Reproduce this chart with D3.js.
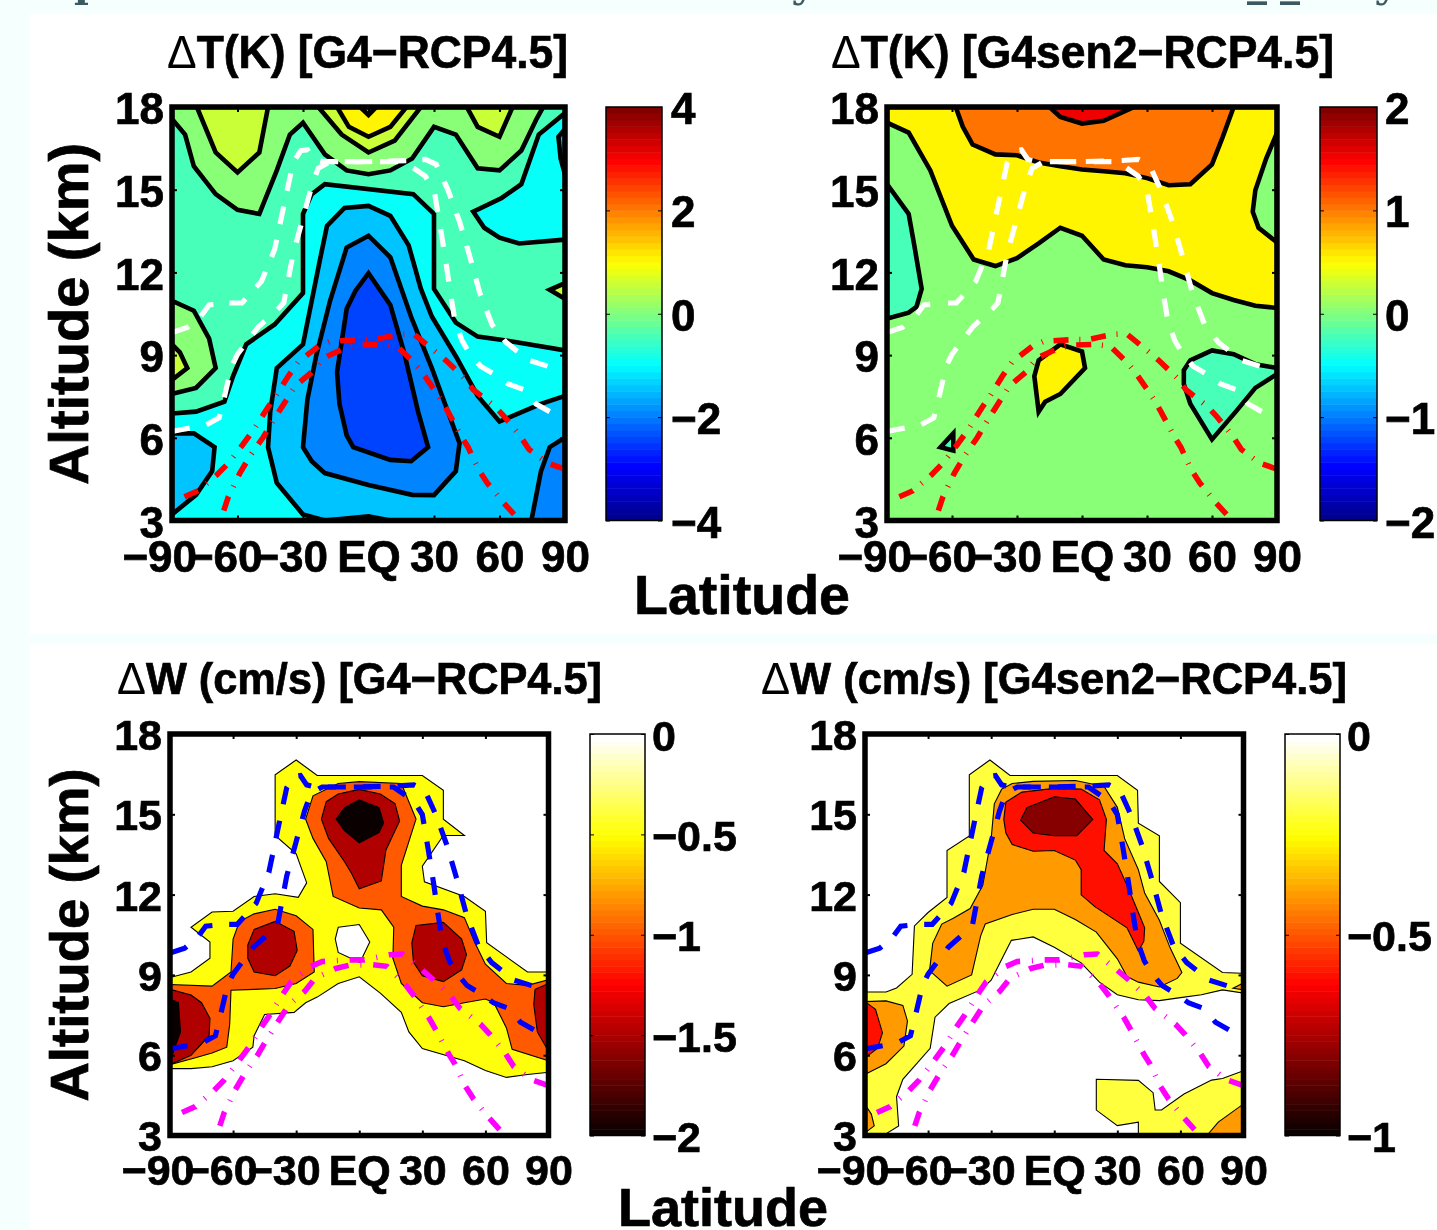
<!DOCTYPE html>
<html><head><meta charset="utf-8">
<style>html,body{margin:0;padding:0;background:#f5fffe;overflow:hidden}svg{display:block;filter:blur(0.45px)}text{font-family:"Liberation Sans",Arial,sans-serif;font-weight:700;fill:#000;stroke:#000;stroke-width:0.7px}</style>
<script src="https://cdn.jsdelivr.net/npm/d3@7"></script></head><body><svg id="c" width="1437" height="1230"></svg>
<script>
// ---------- Data: contour outlines, [latitude, altitude km] ----------
const latTicks=[-90,-60,-30,0,30,60,90];
const altTicks=[3,6,9,12,15,18];
const wholeDomain=[[-90,3],[-90,18],[90,18],[90,3]];

// Tropopause-like curves (same in every panel)
const tropoA=[[-90,9.82],[-83,10],[-77,10.39],[-73,10.82],[-64,10.89],[-58,10.89],[-49,11.68],[-43,12.83],[-38,14.7],[-34.5,15.99],[-31,16.42],[-28,16.45],[-25,16.1],[-21,16.02],[0,16.02],[18.4,16.06],[26,16.1],[31,15.92],[36.4,14.99],[41.7,13.84],[46,12.69],[51,11.25],[56.6,10.1],[63,9.46],[73.5,8.81],[82,8.6]];
const tropoB=[[-90,6.23],[-85.4,6.3],[-74.8,6.45],[-68.4,6.73],[-66.3,7.38],[-62.7,8.6],[-60,9.03],[-50.4,10.03],[-43,10.54],[-38.8,10.9],[-34.5,12.69],[-30,13.98],[-26,15.13],[-23,15.78],[-17.6,16.02],[0,16.02],[16.3,16.02],[26,15.49],[30,14.99],[32.8,13.69],[35.4,12.4],[37.5,11.25],[39.6,10.25],[42.8,9.53],[46,9.1],[51.3,8.6],[57.6,8.31],[64,7.95],[71.4,7.74],[76.7,7.23],[83,6.95]];
const tropoC=[[-84.3,3.86],[-78,4.08],[-69.5,4.65],[-64.2,5.08],[-57.8,5.73],[-52.5,6.3],[-46.2,7.09],[-43,7.45],[-36.7,8.24],[-32.4,8.74],[-22.9,9.32],[-17.6,9.5],[-4.9,9.56],[2.5,9.56],[14.2,9.75],[20.5,9.78],[30,9.17],[35.4,8.81],[43.9,8.17],[48,7.74],[57.6,7.16],[61.9,6.8],[69.3,6.09],[73.5,5.58],[82,5.08],[88.3,4.91],[90,4.87]];
const tropoD=[[-66.3,3.36],[-64.2,3.86],[-58.9,4.72],[-54,5.37],[-48.3,6.01],[-45.1,6.44],[-38.8,7.23],[-33.5,7.88],[-26,8.38],[-20.8,8.89],[-11.2,9.24],[-4.9,9.36],[5.7,9.39],[13.1,9.32],[21.6,8.67],[25.8,8.24],[33.3,7.38],[36.4,6.95],[42.8,6.01],[45.6,5.66],[50.2,4.87],[54.4,4.36],[61.9,3.64],[66.7,3.22]];

// Panel 1: dT G4-RCP4.5
const t1GreenTop=[[-90,17.57],[-84,17],[-80,15.85],[-70,14.84],[-60,14.27],[-50,14.12],[-42,15.7],[-36,17],[-30,17.43],[-20,16.28],[-10,15.7],[0,15.56],[10,15.7],[20,16.13],[30,17.28],[40,17],[50,15.78],[60,15.7],[70,16.42],[77,17.57],[80,18],[-90,18]];
const t1GreenLeft=[[-90,10.97],[-80,10.61],[-73,9.6],[-70,8.53],[-79,7.81],[-90,7.59]];
const t1LimeLeft=[[-90,9.39],[-86.4,9.1],[-83,8.53],[-90,8.1]];
const t1LimeA=[[-78.6,18],[-70,16.35],[-60,15.63],[-50,16.35],[-46,18]];
const t1LimeB=[[-23,18],[-12.3,17],[0,16.35],[12,16.78],[24,18]];
const t1Yellow=[[-14.4,18],[-9,17.28],[0,16.92],[10,17.28],[17.4,18]];
const t1Orange=[[-3.8,18],[0,17.71],[3.6,18]];
const t1LimeC=[[45,18],[50,17.28],[60,16.92],[66,18]];
const t1LimeRight=[[90,11.61],[83,11.37],[90,11.04]];
const t1CyanMain=[[-90,6.88],[-79,6.95],[-66,7.31],[-62,8.24],[-56,9.39],[-43,10.11],[-30,11.25],[-30,14.12],[-26,14.84],[-20,15.2],[20.5,14.84],[30,14.12],[30,11.4],[40,10.18],[50,9.67],[63,9.53],[90,9.17],[90,3],[-90,3]];
const t1CyanTongue=[[90,13.19],[69,13.05],[60,13.26],[53,13.62],[48,14.2],[61,14.7],[70,15.2],[78,17],[90,17.78]];
const t1SkyLeft=[[-90,6.16],[-80,6.16],[-70.5,5.66],[-71.6,4.79],[-79,3.93],[-90,3.22]];
const t1SkyCentre=[[-30,3.22],[-42,4.36],[-46,5.66],[-45,6.95],[-42,8.53],[-30,9.39],[-22,12.55],[-19,13.69],[-11,14.34],[0,14.41],[10,14.05],[18.4,12.98],[24,11.4],[29,10.4],[40,8.96],[50,7.52],[60,6.59],[79,7.23],[90,7.52],[90,3],[10,3],[0,3.15],[-7,3.1],[-20,3]];
const t1SkyRight=[[90,17.2],[87,16.92],[88,16.13],[90,15.56]];
const t1MidCentre=[[-30,5.66],[-28,7.38],[-24,8.96],[-17.6,10.97],[-10,12.9],[0,13.33],[10,12.55],[19.5,10.39],[29,8.53],[41.7,5.8],[40,4.79],[30,3.92],[20,3.93],[0,4.29],[-20,4.72],[-26,5.15]];
const t1MidRight=[[74.6,3],[79,4.79],[83,5.66],[90,6.01],[90,3]];
const t1Deep=[[0,11.97],[10,10.82],[16.3,9.1],[22.7,6.95],[27.3,5.66],[19.5,5.15],[10,5.2],[-7,5.66],[-10,6.09],[-13.3,7.23],[-14.4,8.38],[-10,10.68],[-6,11.33]];

// Panel 2: dT G4sen2-RCP4.5
const t2Yellow=[[-90,17.43],[-80,17.07],[-70,15.7],[-60,13.69],[-50,12.47],[-40,12.23],[-30,12.52],[-20,13.05],[-10,13.62],[0,13.33],[10,12.47],[20,12.26],[30,12.19],[40,12.04],[50,11.71],[60,11.25],[70,11],[80,10.79],[90,10.71],[90,18],[-90,18]];
const t2Orange=[[-58.3,18],[-55,17.28],[-50.5,16.64],[-40,16.28],[-30,16.25],[-20,15.99],[-10,15.85],[0,15.73],[10,15.67],[20,15.6],[30,15.42],[40,15.16],[50,15.2],[60,15.92],[65,16.92],[70,18]];
const t2Red=[[-15,18],[-10,17.64],[0,17.4],[10,17.5],[24,18]];
const t2GreenRight=[[90,17.06],[85,16.13],[80,14.98],[78.8,14.2],[81.5,13.62],[90,13.09]];
const t2AquaLeft=[[-90,15.2],[-80,14.12],[-77.4,12.98],[-74,11.4],[-76.4,10.75],[-80,10.54],[-90,10.32]];
const t2AquaRight=[[47,8.45],[50,8.81],[60,9.17],[70,9.03],[80,8.67],[90,8.53],[90,8.31],[80,7.81],[71,6.95],[60,5.94],[50,7.23],[47,7.95]];
const t2YellowIsle=[[-20,8.81],[-10,9.39],[0,9.13],[1.4,8.53],[-10,7.59],[-17,7.31],[-20,6.95],[-22,8.24]];
const t2Speck=[[-59.4,6.16],[-65.3,5.66],[-59.4,5.54]];

// Panel 3: dW G4-RCP4.5
const w1Yellow=[[-90,8.9],[-80,9.11],[-71,9.62],[-71,10.23],[-80,10.78],[-70,11.35],[-60,11.38],[-50,11.93],[-40,12.03],[-29,11.9],[-25,12.44],[-30,13.52],[-40,14.21],[-40,16.48],[-30,17.03],[-20,16.45],[30,16.45],[40,15.9],[40,14.82],[50,14.21],[40,14.21],[30,13.06],[31,12.48],[50,11.93],[60,11.38],[60.6,10.2],[80,9.11],[90,9.11],[90,5.36],[80,5.28],[70,5.17],[60,5.43],[50,5.79],[30,6.25],[23.6,6.87],[20,7.6],[10,8.32],[0,8.93],[-10,8.68],[-20,8.17],[-25.5,7.96],[-31,7.6],[-45,7.52],[-50,6.73],[-50.6,6.3],[-60,5.79],[-70,5.57],[-80,5.5],[-90,5.5]];
const w1Hole=[[-10,10.78],[0,10.88],[5,10.23],[1.7,9.69],[0,9.47],[-10,9.84],[-11.4,10.34]];
const w1OrangeCentre=[[-25.5,14.82],[-22,15.69],[-10,16.15],[0,16.22],[20,16.15],[27,14.82],[20,13.09],[20,11.93],[30,11.57],[40,11.43],[50,11.14],[55,10.2],[60,9.4],[70,8.68],[80,8.61],[90,8.82],[90,5.79],[72.7,6.22],[70,7.02],[64,7.96],[60,8.1],[50,7.96],[40,7.81],[30,7.96],[20,8.68],[16,9.62],[16.4,10.78],[10.5,11.43],[0,11.5],[-12.4,11.93],[-15.7,13.23],[-22,14.1]];
const w1OrangeLeft=[[-90,8.64],[-70,8.58],[-61,9.11],[-60,10.34],[-57,10.99],[-50,11.28],[-40,11.45],[-30,11.21],[-22,10.7],[-21.4,9.11],[-30,8.68],[-40,8.49],[-50,8.46],[-61,8.43],[-61.6,7.16],[-63,6.3],[-70,6.08],[-80,5.86],[-90,5.65]];
const w1DarkTop=[[-18,14.82],[-15.7,15.47],[-10,15.76],[0,15.93],[10,15.76],[17,15.4],[19.2,14.75],[12.7,13.67],[10.5,12.51],[0,12.22],[-3.7,12.8],[-7,13.23],[-14.6,14.1]];
const w1DarkLeftBlob=[[-53,10.12],[-50,10.7],[-40,11],[-31,10.63],[-29.5,9.91],[-33,9.33],[-40,8.97],[-50,9.11],[-53,9.62]];
const w1DarkRightBlob=[[25,10.2],[27,10.85],[40,10.96],[48.7,10.34],[51,9.76],[48.7,9.19],[40,8.75],[30,8.97],[25.8,9.47]];
const w1DarkEdgeL=[[-90,8.46],[-80,8.25],[-75,7.96],[-71,7.38],[-71.4,6.73],[-80,6],[-90,5.65]];
const w1DarkEdgeR=[[90,8.68],[83.6,8.46],[83,7.89],[84.7,6.87],[90,6.15]];
const w1BlackTop=[[-11,14.82],[-7,15.25],[0,15.54],[9.4,15.25],[11.6,14.68],[9.4,14.32],[0,13.93],[-7,14.39]];
const w1BlackEdge=[[-90,8.1],[-86,7.96],[-85,6.87],[-90,5.79]];

// Panel 4: dW G4sen2-RCP4.5
const w2YellowMain=[[-90,8.36],[-80,8.36],[-75,8.51],[-67.6,9.02],[-66.5,10.83],[-60,11.33],[-51,11.89],[-51,13.65],[-40.4,14.19],[-40.4,16.48],[-30.6,17.03],[-21,16.45],[30,16.45],[39.6,15.9],[40,14.67],[50,14.2],[50,12.49],[60,11.7],[60,10.18],[80,9.09],[89,9.06],[90,9.06],[90,8.32],[80,8.44],[70,8.26],[60,8.15],[50,8.04],[40,8.07],[30,8.26],[21.5,8.73],[12.8,9.45],[0,10.03],[-10,10.42],[-20.4,10.29],[-26.3,9.38],[-30,8.8],[-35,8.44],[-50,7.93],[-56.7,7.42],[-59,6.26],[-72,5.1],[-75,4.45],[-74,3.36],[-79.6,3.08],[-79.6,3],[-90,3]];
const w2YellowSouth=[[20,5.1],[40,5.06],[47,4.6],[48,3.95],[51,3.95],[61.7,4.55],[74.8,5.07],[80,5.13],[90,5.42],[90,3],[40,3],[40,3.5],[30,3.37],[20,3.95]];
const w2OrangeMain=[[-59.3,9.16],[-57.8,10.18],[-53.5,10.9],[-48,11.12],[-40,11.48],[-34,12.35],[-30,14.09],[-28.5,15.39],[-25,15.94],[-20,16.15],[-10,16.23],[10,16.26],[23.7,16.04],[30,15.26],[33.5,14.09],[40,12.93],[43,12.06],[50,11.04],[55,10.03],[60.7,9.09],[58.5,8.87],[50,8.55],[40,8.73],[34.6,8.94],[30,9.6],[20,10.6],[10,11.07],[0,11.45],[-10,11.45],[-20,11.26],[-32.8,10.9],[-35,10.46],[-39.3,9],[-51,8.58]];
const w2OrangeLeft=[[-90,8],[-80,8.03],[-72,7.86],[-69.8,7.28],[-71.5,6.34],[-80,5.68],[-90,5.28]];
const w2OrangeCornerL=[[-90,4.16],[-87,3.8],[-85.6,3.36],[-90,3.1]];
const w2OrangeCornerR=[[72.6,3],[78,3.5],[90,4.18],[90,3]];
const w2OrangeSpeck=[[85,8.5],[90,8.7],[90,8.44]];
const w2RedMain=[[-24,14.81],[-23,15.46],[-15.4,15.83],[0,15.97],[12.8,15.94],[21.5,15.54],[24.8,14.81],[23.7,13.65],[30,13.15],[34.6,12.35],[40,11.33],[43,10.76],[42.6,10.25],[40,9.89],[34.6,10.76],[19.3,11.55],[12.8,11.99],[12.8,12.93],[10,13.29],[0,13.65],[-10,13.62],[-20,13.87],[-23,14.3]];
const w2RedLeft=[[-90,8],[-85,7.71],[-81.7,6.84],[-84,6.26],[-90,5.9]];
const w2Dark=[[-16,14.78],[-13,15.25],[0,15.65],[10,15.57],[18.3,14.81],[10.7,14.2],[0,14.2],[-10,14.3]];

// Paint order: [contour level, outline]
const t1Layers=[[-0.5,wholeDomain],[0,t1GreenTop],[0,t1GreenLeft],[0.5,t1LimeLeft],[0.5,t1LimeA],[0.5,t1LimeB],[1,t1Yellow],[1.5,t1Orange],[0.5,t1LimeC],[0.5,t1LimeRight],[-1,t1CyanMain],[-1,t1CyanTongue],[-1.5,t1SkyLeft],[-1.5,t1SkyCentre],[-1.5,t1SkyRight],[-2,t1MidCentre],[-2,t1MidRight],[-2.5,t1Deep]];
const t2Layers=[[0,wholeDomain],[0.5,t2Yellow],[1,t2Orange],[1.5,t2Red],[0,t2GreenRight],[-0.25,t2AquaLeft],[-0.25,t2AquaRight],[0.5,t2YellowIsle],[-0.25,t2Speck]];
const w1Layers=[[0,wholeDomain],[-0.5,w1Yellow],[0,w1Hole],[-1,w1OrangeCentre],[-1,w1OrangeLeft],[-1.5,w1DarkTop],[-1.5,w1DarkLeftBlob],[-1.5,w1DarkRightBlob],[-1.5,w1DarkEdgeL],[-1.5,w1DarkEdgeR],[-2,w1BlackTop],[-2,w1BlackEdge]];
const w2Layers=[[0,wholeDomain],[-0.2,w2YellowMain],[-0.2,w2YellowSouth],[-0.4,w2OrangeMain],[-0.4,w2OrangeLeft],[-0.4,w2OrangeCornerL],[-0.4,w2OrangeCornerR],[-0.4,w2OrangeSpeck],[-0.6,w2RedMain],[-0.6,w2RedLeft],[-0.8,w2Dark]];

const t1Bar=[4,2,0,-2,-4], t2Bar=[2,1,0,-1,-2], w1Bar=[0,-0.5,-1,-1.5,-2], w2Bar=[0,-0.5,-1];

// ---------- Colour maps ----------
const jetRamp=d3.scaleLinear().domain([0,.125,.375,.625,.875,1]).range(["#00008f","#0000ff","#00ffff","#ffff00","#ff0000","#800000"]);
const hotRamp=d3.scaleLinear().domain([0,.375,.75,1]).range(["#0a0000","#ff0000","#ffff00","#ffffff"]);
const quant=n=>Math.min(63,Math.floor(Math.max(0,n)*64))/63;

// ---------- Layout ----------
const panels=[
 {title:"T(K) [G4\u2212RCP4.5]",tx:167,tw:401,ty:68,fs:44,tfs:46,ydy:"0.38em",x0:172,x1:565,y0:107,y1:520.5,bx0:606,bx1:662,lb:671,ramp:jetRamp,dom:[-4,4],ticks:t1Bar,layers:t1Layers,cw:4.6,dash1:"#fff",dash2:"#ff0000"},
 {title:"T(K) [G4sen2\u2212RCP4.5]",tx:831,tw:503,ty:68,fs:44,tfs:46,ydy:"0.38em",x0:887,x1:1277,y0:107,y1:520.5,bx0:1320,bx1:1377,lb:1385,ramp:jetRamp,dom:[-2,2],ticks:t2Bar,layers:t2Layers,cw:4.6,dash1:"#fff",dash2:"#ff0000"},
 {title:"W (cm/s) [G4\u2212RCP4.5]",tx:117,tw:485,ty:694,fs:43,tfs:44,ydy:"0.36em",x0:170,x1:548.5,y0:734,y1:1135.5,bx0:590,bx1:645,lb:652,ramp:hotRamp,dom:[-2,0],ticks:w1Bar,layers:w1Layers,cw:1.1,dash1:"#0000ff",dash2:"#ff00ff"},
 {title:"W (cm/s) [G4sen2\u2212RCP4.5]",tx:761,tw:586,ty:694,fs:43,tfs:44,ydy:"0.36em",x0:865,x1:1243.5,y0:734,y1:1135.5,bx0:1285,bx1:1340,lb:1347,ramp:hotRamp,dom:[-1,0],ticks:w2Bar,layers:w2Layers,cw:1.1,dash1:"#0000ff",dash2:"#ff00ff"}
];

const svg=d3.select("#c");
svg.append("rect").attr("width",1437).attr("height",1230).attr("fill","#f5fffe");
svg.append("rect").attr("x",30).attr("y",14).attr("width",1407).attr("height",620).attr("fill","#fff");
svg.append("rect").attr("x",30).attr("y",644).attr("width",1407).attr("height",586).attr("fill","#fff");

// Cropped line of page text at the very top
[["p",88],["y",803],["_",1257],["_",1290],["y",1386]].forEach(([s,x])=>{
  svg.append("text").attr("x",x).attr("y",s==="_"?-4:-3).attr("text-anchor","middle").attr("font-size",40)
    .style("font-family","'DejaVu Serif',serif").style("fill","#3a5a60").style("stroke","none").text(s);
});

const fmt=v=>(v<0?"\u2212":"")+Math.abs(v);

// Stretch only the gaps so that a curve starts and ends on a dash
function fitDash(path,dash,gaps,period){
  const L=path.node().getTotalLength();
  const n=Math.max(1,Math.round((L-dash)/period));
  const k=((L-dash)/n-dash)/d3.sum(gaps.filter((g,i)=>i%2===0));
  path.attr("stroke-dasharray",[dash].concat(gaps.map((g,i)=>i%2===0?g*k:g)).join(" "));
}

panels.forEach((p,pi)=>{
  const x=d3.scaleLinear().domain([-90,90]).range([p.x0,p.x1]);
  const y=d3.scaleLinear().domain([3,18]).range([p.y1,p.y0]);
  const line=d3.line().x(d=>x(d[0])).y(d=>y(d[1]));
  const g=svg.append("g");
  const clipId="clip"+pi;
  svg.append("clipPath").attr("id",clipId).append("rect")
    .attr("x",p.x0).attr("y",p.y0).attr("width",p.x1-p.x0).attr("height",p.y1-p.y0);
  const plot=g.append("g").attr("clip-path",`url(#${clipId})`);
  const colour=v=>p.ramp(quant((v-p.dom[0])/(p.dom[1]-p.dom[0])));

  plot.selectAll("path.band").data(p.layers).join("path").attr("class","band")
    .attr("d",d=>line(d[1])+"Z").attr("fill",d=>colour(d[0]))
    .attr("stroke",(d,i)=>i===0?"none":"#000").attr("stroke-width",p.cw).attr("stroke-linejoin","miter").attr("stroke-miterlimit",6);

  [tropoA,tropoB].forEach(t=>{
    const a=plot.append("path").attr("d",line(t)).attr("fill","none")
      .attr("stroke",p.dash1).attr("stroke-width",5.2);
    fitDash(a,18,[17],35);
  });
  [tropoC,tropoD].forEach(t=>{
    const a=plot.append("path").attr("d",line(t)).attr("fill","none")
      .attr("stroke",p.dash2).attr("stroke-width",5.6);
    const L=a.node().getTotalLength();
    const n=Math.max(1,Math.round((L-15)/39));
    const gap=((L-15)/n-16)/2;
    a.attr("stroke-dasharray",[15,gap,1,gap].join(" "));
  });

  // frame
  g.append("rect").attr("x",p.x0).attr("y",p.y0).attr("width",p.x1-p.x0).attr("height",p.y1-p.y0)
    .attr("fill","none").attr("stroke","#000").attr("stroke-width",5.5);

  // axes
  const fsT=p.fs;
  const ax=g.append("g").attr("transform",`translate(0,${p.y1})`)
    .call(d3.axisBottom(x).tickValues(latTicks).tickSize(-5).tickPadding(20).tickFormat(v=>v===0?"EQ":fmt(v)));
  const ay=g.append("g").attr("transform",`translate(${p.x0},0)`)
    .call(d3.axisLeft(y).tickValues(altTicks).tickSize(-5).tickPadding(8).tickFormat(fmt));
  g.append("g").attr("transform",`translate(0,${p.y0})`)
    .call(d3.axisTop(x).tickValues(latTicks).tickSize(-5).tickFormat(""));
  g.append("g").attr("transform",`translate(${p.x1},0)`)
    .call(d3.axisRight(y).tickValues(altTicks).tickSize(-5).tickFormat(""));
  g.selectAll(".domain").remove();
  g.selectAll(".tick line").attr("stroke","#000").attr("stroke-width",2);
  ax.selectAll("text").attr("font-size",fsT).attr("font-family",null).style("font-weight",700)
    .attr("dx",d=>d<0?-fsT*0.29:0).attr("y",null).attr("dy",null)
    .attr("transform",`translate(0,${pi<2?51:49.5})`);
  ay.selectAll("text").attr("font-size",fsT).attr("dy",p.ydy).attr("font-family",null);

  // title: the delta is a lighter symbol glyph
  const tt=g.append("text").attr("x",p.tx).attr("y",p.ty).attr("font-size",p.tfs)
    .attr("textLength",p.tw).attr("lengthAdjust","spacingAndGlyphs");
  tt.append("tspan").style("font-weight",400).style("stroke","none").text("\u0394");
  tt.append("tspan").text(p.title);

  // colour bar
  const cells=d3.range(64);
  const by=d3.scaleBand().domain(cells).range([p.y1,p.y0]);
  const barVal=d3.scaleLinear().domain(p.dom).range([p.y1,p.y0]);
  g.selectAll("rect.cell").data(cells).join("rect").attr("class","cell")
    .attr("x",p.bx0).attr("width",p.bx1-p.bx0).attr("y",d=>by(d)).attr("height",by.bandwidth()+0.5)
    .attr("fill",d=>p.ramp(d/63));
  g.append("rect").attr("x",p.bx0).attr("y",p.y0).attr("width",p.bx1-p.bx0).attr("height",p.y1-p.y0)
    .attr("fill","none").attr("stroke","#000").attr("stroke-width",1.5);
  const barAxis=g.append("g").attr("transform",`translate(${p.bx1},0)`)
    .call(d3.axisRight(barVal).tickValues(p.ticks).tickSize(-4).tickPadding(p.lb-p.bx1).tickFormat(fmt));
  g.append("g").attr("transform",`translate(${p.bx0},0)`)
    .call(d3.axisLeft(barVal).tickValues(p.ticks).tickSize(-4).tickFormat(""));
  barAxis.select(".domain").remove();
  g.selectAll(".domain").remove();
  barAxis.selectAll("text").attr("font-size",fsT).attr("font-family",null).attr("dy","0.375em");
  g.selectAll(".tick line").attr("stroke","#000");
});

// shared axis labels
const labels=[
 {t:"Latitude",x:742,y:614,fs:55.5,r:0},{t:"Latitude",x:723,y:1226,fs:54,r:0},
 {t:"Altitude (km)",x:88,y:314,fs:56,r:-90},{t:"Altitude (km)",x:88,y:935,fs:54.5,r:-90}
];
labels.forEach(l=>svg.append("text").attr("font-size",l.fs).attr("text-anchor","middle")
  .attr("transform",`translate(${l.x},${l.y}) rotate(${l.r})`).text(l.t));
</script></body></html>
